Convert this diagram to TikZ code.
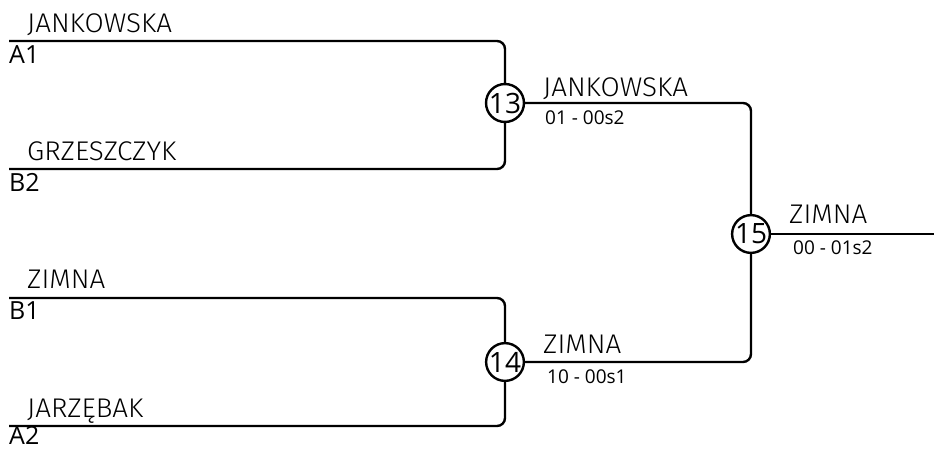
\documentclass[tikz,border=0pt]{standalone}
\usepackage{fontspec}
\setmainfont{Open Sans}
\newfontfamily\namefont[FakeStretch=1.03]{Fira Sans Light}
\begin{document}
\begin{tikzpicture}[x=1pt,y=-1pt,
  bline/.style={line width=2.4pt,rounded corners=8pt},
  match/.style={circle,draw,line width=2.4pt,fill=white,minimum size=37pt,inner sep=0pt,font=\fontsize{28}{28}\selectfont},
  pname/.style={anchor=base west,inner sep=0pt,font=\namefont\fontsize{27}{27}\selectfont},
  seed/.style={anchor=base west,inner sep=0pt,font=\fontsize{25}{25}\selectfont},
  score/.style={anchor=base west,inner sep=0pt,font=\fontsize{19}{19}\selectfont}]
\useasboundingbox (0,0) rectangle (934,450);
\coordinate (a1) at (9,41);
\coordinate (b2) at (9,169);
\coordinate (b1) at (9,298);
\coordinate (a2) at (9,426);
\coordinate (out) at (934,234);
\draw[bline] (a1) -| (505,103);
\draw[bline] (b2) -| (505,103);
\draw[bline] (b1) -| (505,362);
\draw[bline] (a2) -| (505,362);
\draw[bline] (505,103) -| (751,234);
\draw[bline] (505,362) -| (751,234);
\draw[bline] (751,234) -- (out);
\node[match] (m13) at (505,103) {13};
\node[match] (m14) at (505,362) {14};
\node[match] (m15) at (751,234) {15};
\node[pname] (n1) at (27,32) {JANKOWSKA};
\node[seed] (s1) at (9,63) {A1};
\node[pname] (n2) at (27,160) {GRZESZCZYK};
\node[seed] (s2) at (9,191) {B2};
\node[pname] (n3) at (27,288) {ZIMNA};
\node[seed] (s3) at (9,319) {B1};
\node[pname] (n4) at (27,417) {JARZĘBAK};
\node[seed] (s4) at (9,444) {A2};
\node[pname] (w13) at (543,96) {JANKOWSKA};
\node[score] (r13) at (545,124) {01 - 00s2};
\node[pname] (w14) at (543,353) {ZIMNA};
\node[score] (r14) at (547,383) {10 - 00s1};
\node[pname] (w15) at (789,223) {ZIMNA};
\node[score] (r15) at (793,254) {00 - 01s2};
\end{tikzpicture}
\end{document}
